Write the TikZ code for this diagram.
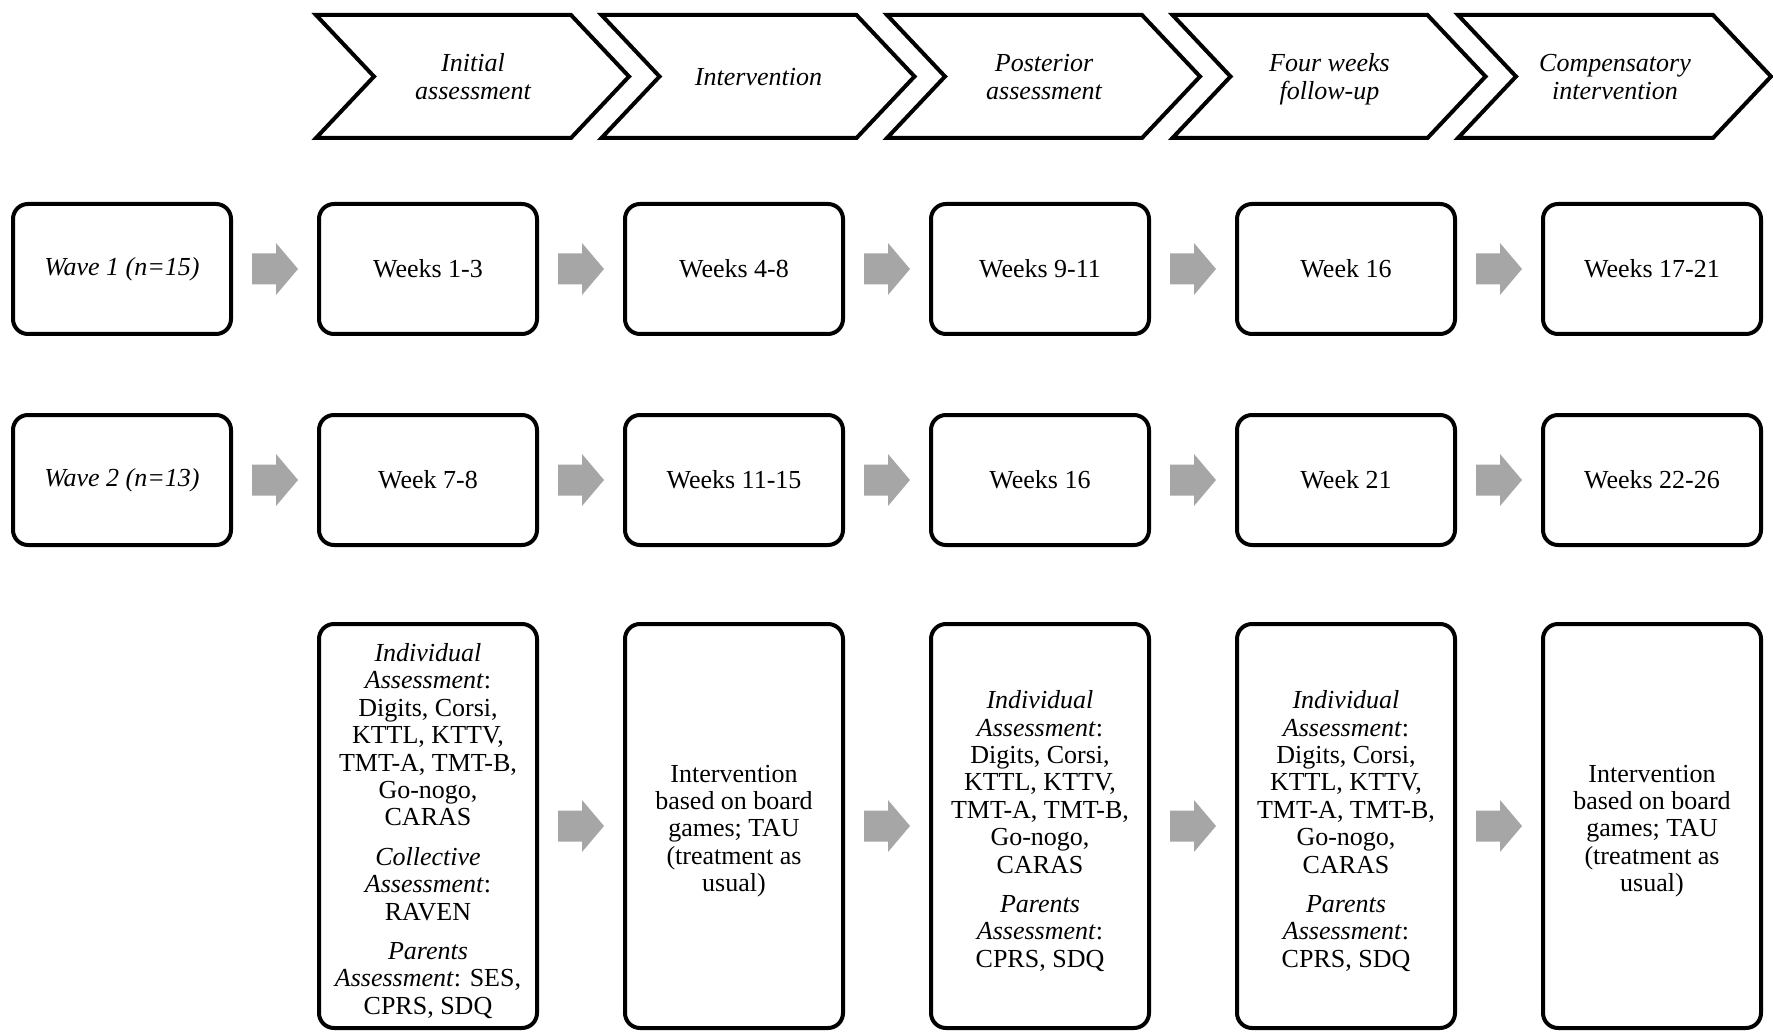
\documentclass[tikz,border=0pt]{standalone}
\usepackage{fontspec}
\setmainfont{Liberation Serif}
\usetikzlibrary{calc}
\definecolor{arrowgray}{HTML}{A6A6A6}
\begin{document}
\begin{tikzpicture}[x=0.5pt,y=-0.5pt,
  txt/.style={font=\fontsize{13}{13.7}\selectfont},
  stagebox/.style={txt,draw,line width=2pt,rounded corners=7.5pt,minimum width=109pt,minimum height=65pt,inner sep=0pt,align=center},
  tallbox/.style={stagebox,minimum height=202pt},
  talltext/.style={txt,align=center,inner sep=0pt},
  garrow/.style={fill=arrowgray,draw=none},
  chev/.style={draw,line width=2pt,line join=miter},
  chevlabel/.style={font=\fontsize{13}{13.7}\selectfont\itshape,align=center,inner sep=0pt}]
\fill[white] (0,0) rectangle (1773,1032);
\useasboundingbox (0,0) rectangle (1773,1032);

% chevrons
\foreach \i/\t in {0/{\strut Initial\\assessment\strut},1/{\strut Intervention\strut},2/{\strut Posterior\\assessment\strut},3/{\strut Four weeks\\follow-up\strut},4/{\strut Compensatory\\intervention\strut}}{
  \pgfmathsetmacro\L{316+285.5*\i}
  \draw[chev] (\L,15) -- (\L+255,15) -- (\L+313,76.5) -- (\L+255,138) -- (\L,138) -- (\L+58,76.5) -- cycle;
  \node[chevlabel] (ch\i) at (\L+157,80) {\t};
}

% row 1
\node[stagebox] (r1c0) at (122,269) {\textit{Wave 1 (n=15)}};
\node[stagebox] (r1c1) at (428,269) {Weeks 1-3};
\node[stagebox] (r1c2) at (734,269) {Weeks 4-8};
\node[stagebox] (r1c3) at (1040,269) {Weeks 9-11};
\node[stagebox] (r1c4) at (1346,269) {Week 16};
\node[stagebox] (r1c5) at (1652,269) {Weeks 17-21};

% row 2
\node[stagebox] (r2c0) at (122,480) {\textit{Wave 2 (n=13)}};
\node[stagebox] (r2c1) at (428,480) {Week 7-8};
\node[stagebox] (r2c2) at (734,480) {Weeks 11-15};
\node[stagebox] (r2c3) at (1040,480) {Weeks 16};
\node[stagebox] (r2c4) at (1346,480) {Week 21};
\node[stagebox] (r2c5) at (1652,480) {Weeks 22-26};

% row 3 boxes
\foreach \c/\x in {1/428,2/734,3/1040,4/1346,5/1652}{
  \node[tallbox] (r3c\c) at (\x,826) {};
}
% row 3 texts
\node[talltext] (t3c1) at ($(r3c1.center)+(0,5)$) {\textit{Individual}\\\textit{Assessment}:\\Digits, Corsi,\\KTTL, KTTV,\\TMT-A, TMT-B,\\Go-nogo,\\CARAS\\[6pt]\textit{Collective}\\\textit{Assessment}:\\RAVEN\\[6pt]\textit{Parents}\\\textit{Assessment}: SES,\\CPRS, SDQ};
\node[talltext] (t3c2) at ($(r3c2.center)+(0,5)$) {Intervention\\based on board\\games; TAU\\(treatment as\\usual)};
\node[talltext] (t3c3) at ($(r3c3.center)+(0,5)$) {\textit{Individual}\\\textit{Assessment}:\\Digits, Corsi,\\KTTL, KTTV,\\TMT-A, TMT-B,\\Go-nogo,\\CARAS\\[6pt]\textit{Parents}\\\textit{Assessment}:\\CPRS, SDQ};
\node[talltext] (t3c4) at ($(r3c4.center)+(0,5)$) {\textit{Individual}\\\textit{Assessment}:\\Digits, Corsi,\\KTTL, KTTV,\\TMT-A, TMT-B,\\Go-nogo,\\CARAS\\[6pt]\textit{Parents}\\\textit{Assessment}:\\CPRS, SDQ};
\node[talltext] (t3c5) at ($(r3c5.center)+(0,5)$) {Intervention\\based on board\\games; TAU\\(treatment as\\usual)};

% gray block arrows, centred between the boxes they join
\foreach \r/\a/\b in {1/0/1,1/1/2,1/2/3,1/3/4,1/4/5,2/0/1,2/1/2,2/2/3,2/3/4,2/4/5,3/1/2,3/2/3,3/3/4,3/4/5}{
  \coordinate (m\r\a) at ($(r\r c\a.east)!0.5!(r\r c\b.west)$);
  \fill[garrow,shift={(m\r\a)}] (-23,-15.5) -- (1,-15.5) -- (1,-26) -- (23,0) -- (1,26) -- (1,15.5) -- (-23,15.5) -- cycle;
}
\end{tikzpicture}
\end{document}
